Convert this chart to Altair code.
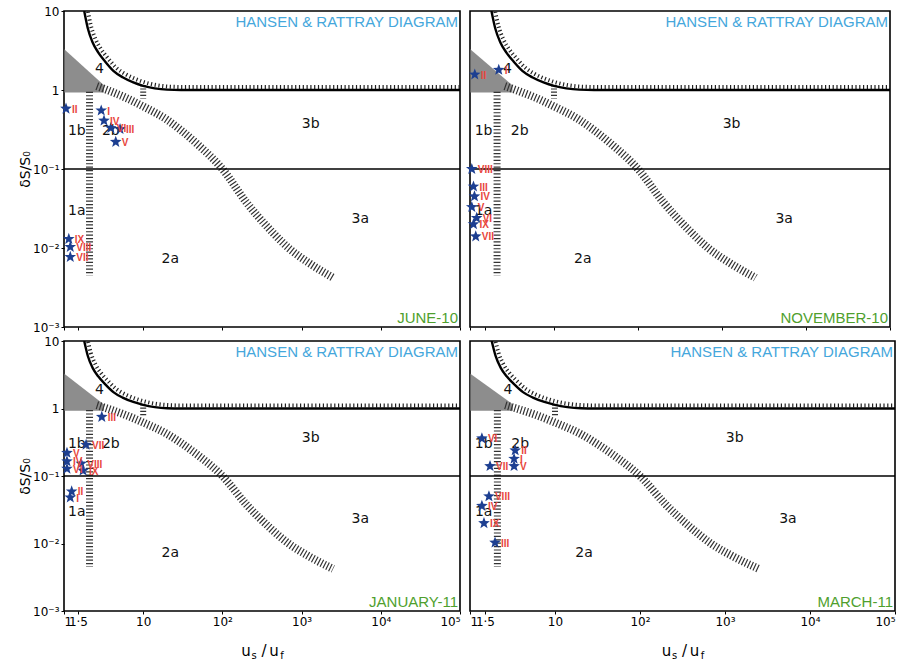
import math
import altair as alt
import pandas as pd

# ---------------- data ----------------
x_tick_values = [1, 1.5, 10, 100, 1000, 10000, 100000]
x_tick_labels = ["1", "1·5", "10", "10²", "10³", "10⁴", "10⁵"]
y_tick_values = [0.001, 0.01, 0.1, 1, 10]
y_tick_labels = ["10⁻³", "10⁻²", "10⁻¹", "1", "10"]

# boundary of region 4 (thick black curve)
curve_x = [1.8, 2.0, 2.3, 2.7, 3.3, 4.2, 5.5, 7.5, 10, 14, 20, 30, 100000]
curve_y = [10, 6, 4, 3, 2.3, 1.75, 1.45, 1.25, 1.13, 1.05, 1.01, 1.0, 1.0]

# hatched diagonal band (2 / 3 boundary)
band_x = [2.6, 4, 6, 10, 20, 30, 50, 100, 200, 400, 700, 1200, 2500]
band_y = [1.12, 0.95, 0.8, 0.62, 0.42, 0.31, 0.2, 0.1, 0.038, 0.017, 0.0098, 0.0066, 0.0042]

# hatched wedge at top-left
patch_x = [1, 3.2]
patch_top = [3.3, 1.15]
patch_bottom = [0.93, 0.93]

# vertical hatched band (1 / 2 boundary)
vband_x = [2.1, 2.1]
vband_y = [0.95, 0.0045]

# short hatched mark at x = 10
mark10_x = [10, 10]
mark10_y = [1.15, 0.78]

# stratification limit line
hline_x = [1, 100000]
hline_y = [0.1, 0.1]

region_text = ["4", "1b", "2b", "3b", "1a", "2a", "3a"]
region_x = [2.8, 1.45, 3.9, 1300, 1.45, 22, 5500]
region_y = [1.85, 0.3, 0.3, 0.37, 0.029, 0.0072, 0.023]

diagram_title = ["HANSEN & RATTRAY DIAGRAM"]

months = ["JUNE-10", "NOVEMBER-10", "JANUARY-11", "MARCH-11"]

jun_lab = ["I", "II", "III", "IV", "V", "VI", "VII", "VIII", "IX"]
jun_x = [2.95, 1.06, 5.1, 3.2, 4.5, 3.9, 1.2, 1.2, 1.15]
jun_y = [0.55, 0.58, 0.32, 0.41, 0.22, 0.33, 0.0077, 0.0103, 0.013]

nov_lab = ["I", "II", "VIII", "III", "IV", "V", "VI", "IX", "VII"]
nov_x = [2.2, 1.14, 1.05, 1.1, 1.13, 1.05, 1.2, 1.1, 1.17]
nov_y = [1.8, 1.57, 0.1, 0.06, 0.045, 0.033, 0.024, 0.02, 0.014]

jan_lab = ["III", "VII", "V", "IV", "VIII", "IX", "VI", "II", "I"]
jan_x = [3.0, 1.9, 1.09, 1.09, 1.65, 1.74, 1.09, 1.25, 1.2]
jan_y = [0.75, 0.29, 0.22, 0.165, 0.153, 0.12, 0.128, 0.059, 0.048]

mar_lab = ["VI", "VII", "II", "I", "V", "VIII", "IV", "IX", "III"]
mar_x = [1.38, 1.72, 3.4, 3.3, 3.3, 1.67, 1.38, 1.46, 1.97]
mar_y = [0.36, 0.14, 0.24, 0.18, 0.14, 0.05, 0.036, 0.02, 0.0103]

# ---------------- styling helpers ----------------
pts = []
for k in range(10):
    r = 1.0 if k % 2 == 0 else 0.42
    a = math.radians(-90 + 36 * k)
    pts.append(f"{r * math.cos(a):.3f},{r * math.sin(a):.3f}")
STAR = "M" + " L".join(pts) + " Z"

FONT = "DejaVu Sans"
x_expr = "[" + ",".join(f"'{t}'" for t in x_tick_labels) + "][indexof([" + ",".join(
    repr(v) for v in x_tick_values) + "], datum.value)]"
y_expr = "[" + ",".join(f"'{t}'" for t in y_tick_labels) + "][indexof([" + ",".join(
    repr(v) for v in y_tick_values) + "], datum.value)]"

xs = alt.Scale(type="log", domain=[1, 100000], nice=False)
ys = alt.Scale(type="log", domain=[0.001, 10], nice=False)


def panel(month, sx, sy, sl, w, h, show_x_labels, show_y):
    xaxis = alt.Axis(values=x_tick_values, labelExpr=x_expr, labels=show_x_labels,
                     title=None, ticks=True, tickSize=3, domain=False, grid=False,
                     labelOverlap=False, labelFont=FONT, labelFontSize=12,
                     labelColor="black", tickColor="black", labelPadding=2)
    if show_y:
        yaxis = alt.Axis(values=y_tick_values, labelExpr=y_expr, title="δS/S₀",
                         ticks=True, tickSize=3, domain=False, grid=False,
                         labelOverlap=False, labelFont=FONT, labelFontSize=12,
                         labelColor="black", tickColor="black", labelPadding=2,
                         titleFont=FONT, titleFontSize=14, titleFontWeight="normal",
                         titleColor="black", titlePadding=0)
    else:
        yaxis = None

    X = lambda f: alt.X(f, type="quantitative", scale=xs, axis=xaxis)
    Y = lambda f: alt.Y(f, type="quantitative", scale=ys, axis=yaxis)

    patch = alt.Chart(pd.DataFrame({"x": patch_x, "y": patch_top, "y2": patch_bottom})).mark_area(
        fill="#707070", opacity=0.8).encode(x=X("x"), y=Y("y"), y2="y2")

    band = alt.Chart(pd.DataFrame({"x": band_x, "y": band_y})).mark_line(
        strokeWidth=8, strokeDash=[1.2, 2.0], color="#333333", interpolate="monotone").encode(
        x=X("x"), y=Y("y"))

    vband = alt.Chart(pd.DataFrame({"x": vband_x, "y": vband_y})).mark_line(
        strokeWidth=7, strokeDash=[1.2, 2.2], color="#333333").encode(
        x=X("x"), y=Y("y"), order=alt.Order("y:Q", sort="descending"))

    m10 = alt.Chart(pd.DataFrame({"x": mark10_x, "y": mark10_y})).mark_line(
        strokeWidth=6, strokeDash=[1.2, 2.0], color="#333333").encode(
        x=X("x"), y=Y("y"), order=alt.Order("y:Q", sort="descending"))

    hline = alt.Chart(pd.DataFrame({"x": hline_x, "y": hline_y})).mark_line(
        strokeWidth=1.3, color="black").encode(x=X("x"), y=Y("y"))

    cdf = pd.DataFrame({"x": curve_x, "y": curve_y})
    chatch = alt.Chart(cdf).mark_line(
        strokeWidth=4, strokeDash=[1.2, 2.6], color="#222222", interpolate="monotone",
        xOffset=3, yOffset=-3, clip=True).encode(x=X("x"), y=Y("y"))
    curve = alt.Chart(cdf).mark_line(
        strokeWidth=2.4, color="black", interpolate="monotone", clip=True).encode(
        x=X("x"), y=Y("y"))

    regions = alt.Chart(pd.DataFrame({"x": region_x, "y": region_y, "t": region_text})).mark_text(
        font=FONT, fontSize=14, color="#111111").encode(x=X("x"), y=Y("y"), text="t:N")

    sdf = pd.DataFrame({"x": sx, "y": sy, "t": sl})
    stars = alt.Chart(sdf).mark_point(
        shape=STAR, filled=True, size=150, color="#1d3f91", opacity=1).encode(x=X("x"), y=Y("y"))
    slabels = alt.Chart(sdf).mark_text(
        align="left", dx=6, dy=1, font="Liberation Sans", fontSize=10, fontWeight="bold",
        color="#e8463c").encode(x=X("x"), y=Y("y"), text="t:N")

    ttl = alt.Chart(pd.DataFrame({"t": diagram_title})).mark_text(
        align="right", baseline="middle", font="Liberation Sans", fontSize=15,
        color="#45a7dc").encode(text="t:N", x=alt.value(w - 2), y=alt.value(11))
    mon = alt.Chart(pd.DataFrame({"t": [month]})).mark_text(
        align="right", baseline="middle", font="Liberation Sans", fontSize=15,
        color="#4f9f2e").encode(text="t:N", x=alt.value(w - 2), y=alt.value(h - 9))

    layers = [patch, band, vband, m10, hline, chatch, curve, regions, stars, slabels, ttl, mon]

    if show_x_labels:
        cx = w / 2
        ty = h + 40
        pieces = [("u", cx - 16, ty, 15), ("s", cx - 8, ty + 5, 10), ("/", cx + 2, ty, 15),
                  ("u", cx + 12, ty, 15), ("f", cx + 20, ty + 5, 10)]
        for txt, px, py, fs in pieces:
            layers.append(alt.Chart(pd.DataFrame({"t": [txt]})).mark_text(
                font=FONT, fontSize=fs, color="black", baseline="middle").encode(
                text="t:N", x=alt.value(px), y=alt.value(py)))

    return alt.layer(*layers).properties(width=w, height=h)


tl = panel(months[0], jun_x, jun_y, jun_lab, 396, 316, False, True)
tr = panel(months[1], nov_x, nov_y, nov_lab, 420, 316, False, False)
bl = panel(months[2], jan_x, jan_y, jan_lab, 396, 270, True, True)
br = panel(months[3], mar_x, mar_y, mar_lab, 425, 270, True, False)

top = alt.hconcat(tl, tr, spacing=10, bounds="flush")
bottom = alt.hconcat(bl, br, spacing=10, bounds="flush")
chart = alt.vconcat(top, bottom, spacing=0).properties(
    padding={"left": 17, "top": 4, "right": 2, "bottom": 2}
).configure_view(stroke="black", strokeWidth=1.6)

chart.save("out.html", embed_options={"renderer": "svg", "actions": False})
